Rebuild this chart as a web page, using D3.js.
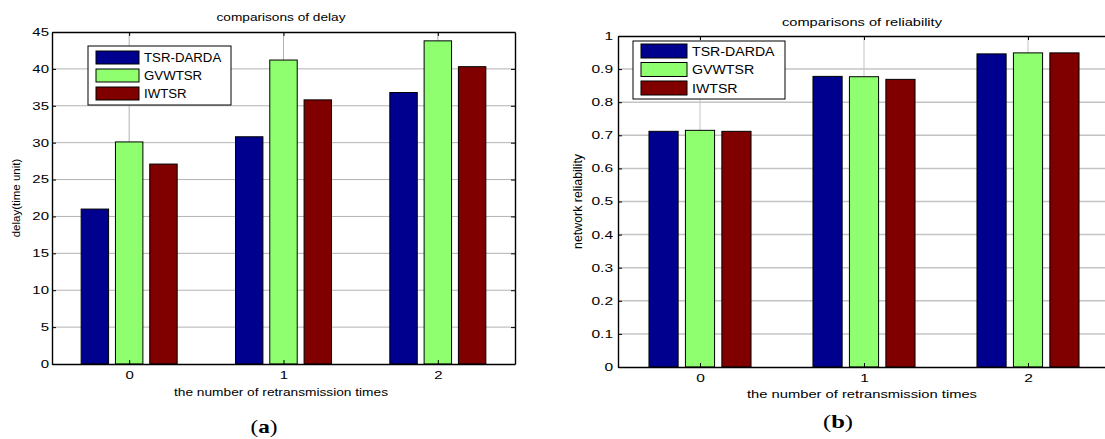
<!DOCTYPE html>
<html>
<head>
<meta charset="utf-8">
<script src="https://cdn.jsdelivr.net/npm/d3@7"></script>
<style>
  body { margin: 0; background: #fff; }
  text { font-family: Arial, "Liberation Sans", sans-serif; fill: #000; }
</style>
</head>
<body>
<div id="chart"></div>
<script>
// Data
const groups = [0, 1, 2];
const seriesNames = ["TSR-DARDA", "GVWTSR", "IWTSR"];
const seriesColors = ["#00008f", "#8fff70", "#800000"];

const delayTSR = [21.0, 30.8, 36.8];
const delayGVW = [30.1, 41.2, 43.8];
const delayIW  = [27.1, 35.8, 40.3];

const relTSR = [0.712, 0.878, 0.946];
const relGVW = [0.715, 0.877, 0.949];
const relIW  = [0.712, 0.869, 0.949];

const delayTicks = [0, 5, 10, 15, 20, 25, 30, 35, 40, 45];
const relTicks = [0, 0.1, 0.2, 0.3, 0.4, 0.5, 0.6, 0.7, 0.8, 0.9, 1];

const W = 1105, H = 439;

const svg = d3.select("#chart")
  .append("svg")
  .attr("width", W)
  .attr("height", H);

// MATLAB grouped bar geometry (3 bars per group)
const groupWidth = Math.min(0.8, 3 / 4.5);
const barStep = groupWidth / 3;
const barW = barStep * 0.8;
const fmt = d3.format("~g");

function drawPanel(o) {
  const g = svg.append("g");
  const x = d3.scaleLinear().domain([-0.5, 2.5]).range([o.left, o.right]);
  const y = d3.scaleLinear().domain([0, o.ymax]).range([o.bottom, o.top]);

  // grid
  g.append("g").selectAll("line")
    .data(o.ticks.slice(1, -1))
    .join("line")
    .attr("x1", o.left).attr("x2", o.right)
    .attr("y1", d => y(d)).attr("y2", d => y(d))
    .attr("stroke", o.gridColor).attr("stroke-width", o.gridWidth);
  g.append("g").selectAll("line")
    .data(groups)
    .join("line")
    .attr("x1", d => x(d)).attr("x2", d => x(d))
    .attr("y1", o.top).attr("y2", o.bottom)
    .attr("stroke", o.gridColor).attr("stroke-width", 1);

  // bars
  g.append("g").selectAll("g")
    .data(o.series)
    .join("g")
    .attr("fill", (d, i) => seriesColors[i])
    .selectAll("rect")
    .data((d, i) => d.map((v, j) => ({ v, j, i })))
    .join("rect")
    .attr("x", d => x(d.j + (d.i - 1) * barStep - barW / 2))
    .attr("width", x(barW) - x(0))
    .attr("y", d => y(d.v))
    .attr("height", d => y(0) - y(d.v))
    .attr("stroke", "#000")
    .attr("stroke-width", 1);

  // axes (ticks inside, like MATLAB)
  const left = g.append("g")
    .attr("transform", `translate(${o.left},0)`)
    .call(d3.axisLeft(y).tickValues(o.ticks).tickSize(-4).tickSizeOuter(0)
      .tickPadding(o.yPad).tickFormat(fmt));
  left.attr("font-size", o.tickFont).attr("font-family", null);
  left.selectAll(".tick text")
    .attr("x", -o.yPad / o.tickStretch)
    .attr("transform", `scale(${o.tickStretch},1)`);

  g.append("g")
    .attr("transform", `translate(${o.right},0)`)
    .call(d3.axisRight(y).tickValues(o.ticks).tickSize(-4).tickSizeOuter(0).tickFormat(""));

  const bottom = g.append("g")
    .attr("transform", `translate(0,${o.bottom})`)
    .call(d3.axisBottom(x).tickValues(groups).tickSize(-4).tickSizeOuter(0).tickFormat(fmt));
  bottom.attr("font-size", o.tickFont).attr("font-family", null);
  bottom.selectAll(".tick text")
    .attr("y", o.xTickY)
    .attr("dy", null)
    .attr("transform", `scale(${o.tickStretch},1)`);

  g.append("g")
    .attr("transform", `translate(0,${o.top})`)
    .call(d3.axisTop(x).tickValues(groups).tickSize(-4).tickSizeOuter(0).tickFormat(""));

  g.selectAll(".domain").attr("stroke-width", 1.4);

  // title and labels
  g.append("text")
    .attr("x", o.titleX).attr("y", o.titleY)
    .attr("text-anchor", "middle")
    .attr("font-size", o.labelFont)
    .attr("textLength", o.titleLen).attr("lengthAdjust", "spacingAndGlyphs")
    .text(o.title);

  g.append("text")
    .attr("x", o.xLabelX).attr("y", o.xLabelY)
    .attr("text-anchor", "middle")
    .attr("font-size", o.labelFont)
    .attr("textLength", o.xLabelLen).attr("lengthAdjust", "spacingAndGlyphs")
    .text("the number of retransmission times");

  g.append("text")
    .attr("transform", `translate(${o.yLabelX},${(o.top + o.bottom) / 2}) rotate(-90)`)
    .attr("text-anchor", "middle")
    .attr("dy", "0.35em")
    .attr("font-size", o.yLabelFont)
    .text(o.yLabel);

  // legend
  const lg = g.append("g");
  lg.append("rect")
    .attr("x", o.legend.x).attr("y", o.legend.y)
    .attr("width", o.legend.w).attr("height", o.legend.h)
    .attr("fill", "#fff").attr("stroke", "#000").attr("stroke-width", 1);
  seriesNames.forEach((name, i) => {
    const ry = o.legend.y + o.legend.rowTop + i * o.legend.rowStep;
    lg.append("rect")
      .attr("x", o.legend.x + 8).attr("y", ry)
      .attr("width", o.legend.swW).attr("height", o.legend.swH)
      .attr("fill", seriesColors[i]).attr("stroke", "#000");
    lg.append("text")
      .attr("transform", `translate(${o.legend.x + o.legend.swW + 13},${ry + o.legend.swH / 2}) scale(${o.legend.stretch},1)`)
      .attr("dy", "0.36em")
      .attr("font-size", o.legend.font)
      .text(name);
  });

  // caption
  const cap = g.append("text")
    .attr("x", o.capX).attr("y", o.capY)
    .attr("text-anchor", "middle")
    .attr("font-size", 19)
    .style("font-family", "'Liberation Serif', 'DejaVu Serif', serif")
    .attr("textLength", o.capLen).attr("lengthAdjust", "spacingAndGlyphs");
  cap.append("tspan").text("(");
  cap.append("tspan").attr("font-weight", "bold").text(o.capLetter);
  cap.append("tspan").text(")");
}

drawPanel({
  left: 52, right: 515, top: 32, bottom: 364, ymax: 45,
  ticks: delayTicks,
  series: [delayTSR, delayGVW, delayIW],
  gridColor: "#b3b3b3", gridWidth: 1,
  tickFont: 10.7, tickStretch: 1.4, yPad: 3, xTickY: 15,
  labelFont: 11, yLabelFont: 11.5,
  title: "comparisons of delay", titleX: 281, titleY: 21, titleLen: 129,
  xLabelX: 281, xLabelY: 396, xLabelLen: 214,
  yLabel: "delay(time unit)", yLabelX: 16,
  legend: { x: 88, y: 46, w: 143, h: 59, rowTop: 5, rowStep: 18, swW: 43, swH: 13, font: 12.5, stretch: 1.06 },
  capX: 264, capY: 433, capLen: 27, capLetter: "a"
});

drawPanel({
  left: 618, right: 1110, top: 36, bottom: 367, ymax: 1,
  ticks: relTicks,
  series: [relTSR, relGVW, relIW],
  gridColor: "#c4c4c4", gridWidth: 1.5,
  tickFont: 10.7, tickStretch: 1.45, yPad: 5, xTickY: 15,
  labelFont: 11.5, yLabelFont: 12.4,
  title: "comparisons of reliability", titleX: 862, titleY: 26, titleLen: 160,
  xLabelX: 862, xLabelY: 398, xLabelLen: 230,
  yLabel: "network reliability", yLabelX: 578,
  legend: { x: 633, y: 41, w: 152, h: 58, rowTop: 3, rowStep: 18.5, swW: 46, swH: 14, font: 13, stretch: 1.09 },
  capX: 838, capY: 428, capLen: 30, capLetter: "b"
});
</script>
</body>
</html>
